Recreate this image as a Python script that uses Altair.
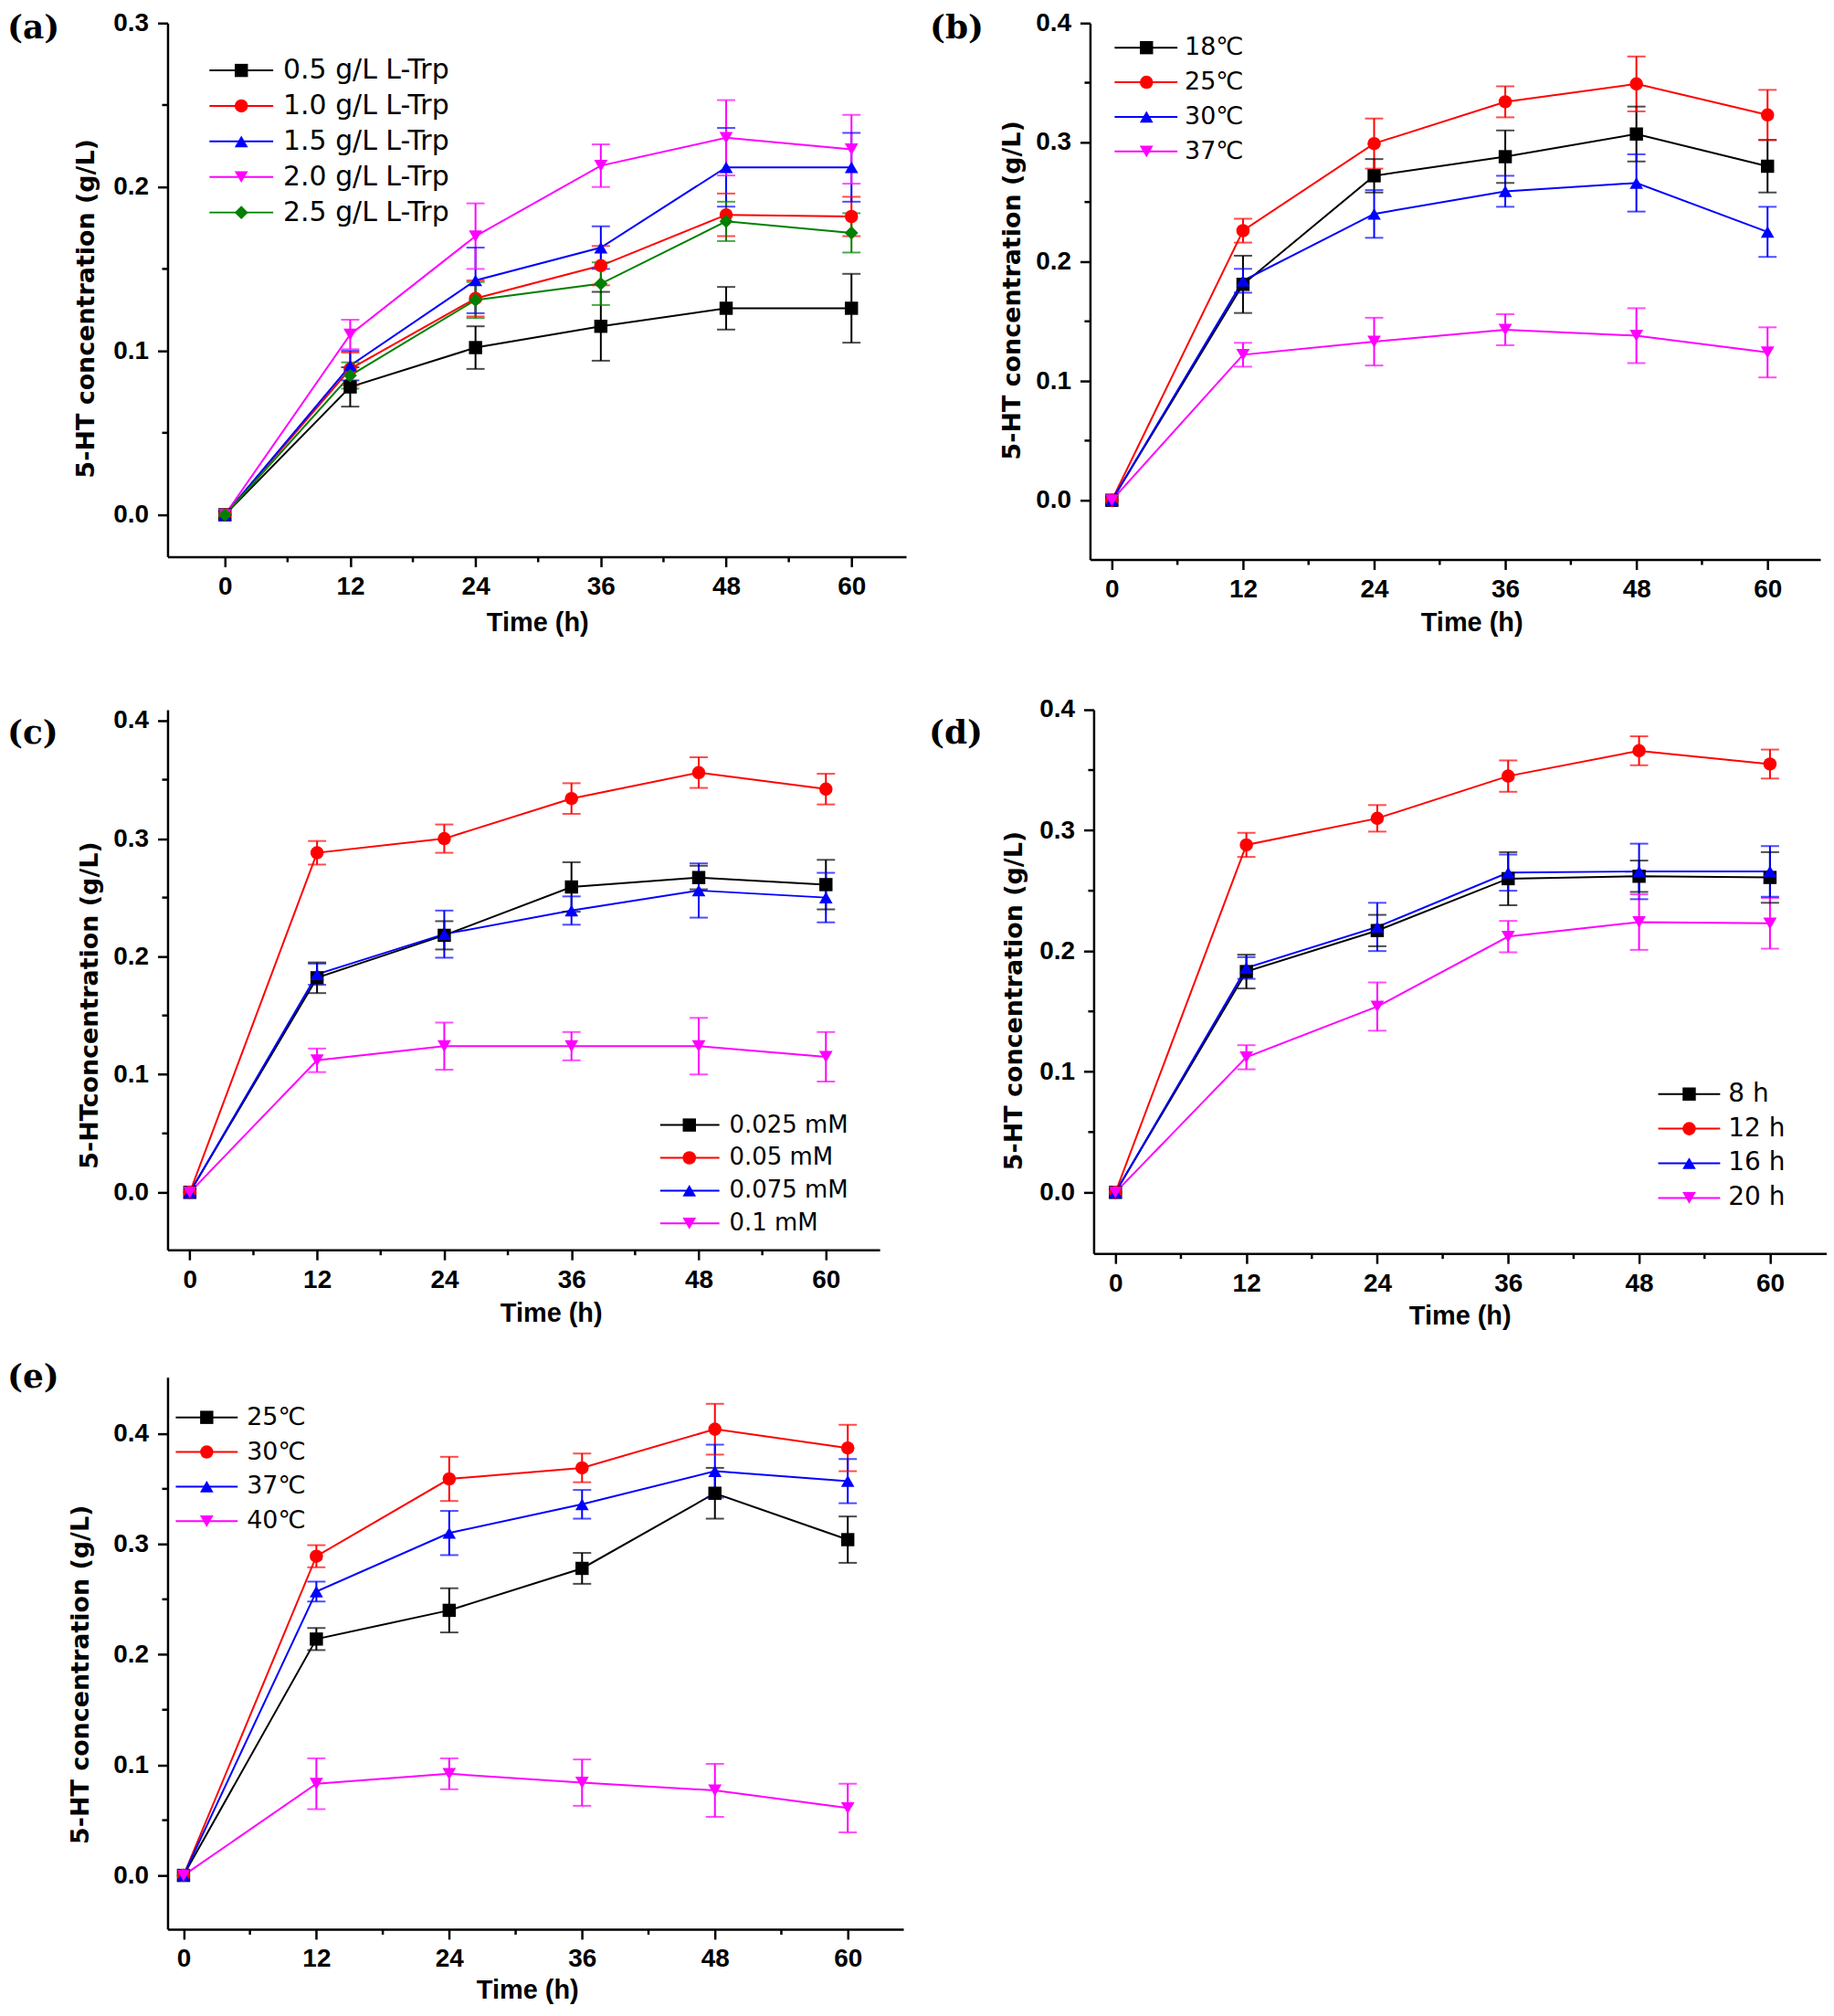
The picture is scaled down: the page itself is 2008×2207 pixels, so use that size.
import altair as alt
import pandas as pd

TIME = [0, 12, 24, 36, 48, 60]
X_MINOR = [6, 18, 30, 42, 54]
COLORS = ["#000000", "#FF0000", "#0000FF", "#FF00FF", "#008000"]
SHAPES = ["square", "circle", "triangle-up", "triangle-down", "diamond"]
SIZES = [210, 220, 290, 290, 240]

# ---- panel (a)
A_SERIES = ["0.5 g/L L-Trp", "1.0 g/L L-Trp", "1.5 g/L L-Trp", "2.0 g/L L-Trp", "2.5 g/L L-Trp"]
A_VALUES = [
    [0, 0.078, 0.102, 0.115, 0.126, 0.126],
    [0, 0.089, 0.132, 0.152, 0.183, 0.182],
    [0, 0.091, 0.143, 0.163, 0.212, 0.212],
    [0, 0.110, 0.170, 0.213, 0.230, 0.223],
    [0, 0.085, 0.131, 0.141, 0.179, 0.172],
]
A_ERRORS = [
    [0, 0.012, 0.013, 0.021, 0.013, 0.021],
    [0, 0.010, 0.011, 0.012, 0.013, 0.012],
    [0, 0.009, 0.020, 0.013, 0.024, 0.021],
    [0, 0.009, 0.020, 0.013, 0.023, 0.021],
    [0, 0.008, 0.011, 0.013, 0.012, 0.012],
]

# ---- panel (b)
B_SERIES = ["18℃", "25℃", "30℃", "37℃"]
B_VALUES = [
    [0, 0.181, 0.272, 0.288, 0.307, 0.280],
    [0, 0.226, 0.299, 0.334, 0.349, 0.323],
    [0, 0.184, 0.240, 0.259, 0.266, 0.225],
    [0, 0.122, 0.133, 0.143, 0.138, 0.124],
]
B_ERRORS = [
    [0, 0.024, 0.014, 0.022, 0.023, 0.022],
    [0, 0.010, 0.021, 0.013, 0.023, 0.021],
    [0, 0.010, 0.020, 0.013, 0.024, 0.021],
    [0, 0.010, 0.020, 0.013, 0.023, 0.021],
]

# ---- panel (c)
C_SERIES = ["0.025 mM", "0.05 mM", "0.075 mM", "0.1 mM"]
C_VALUES = [
    [0, 0.182, 0.218, 0.259, 0.267, 0.261],
    [0, 0.288, 0.300, 0.334, 0.356, 0.342],
    [0, 0.185, 0.219, 0.239, 0.256, 0.250],
    [0, 0.112, 0.124, 0.124, 0.124, 0.115],
]
C_ERRORS = [
    [0, 0.013, 0.012, 0.021, 0.010, 0.021],
    [0, 0.010, 0.012, 0.013, 0.013, 0.013],
    [0, 0.009, 0.020, 0.012, 0.023, 0.021],
    [0, 0.010, 0.020, 0.012, 0.024, 0.021],
]

# ---- panel (d)
D_SERIES = ["8 h", "12 h", "16 h", "20 h"]
D_VALUES = [
    [0, 0.183, 0.217, 0.260, 0.262, 0.261],
    [0, 0.288, 0.310, 0.345, 0.366, 0.355],
    [0, 0.186, 0.220, 0.265, 0.266, 0.266],
    [0, 0.112, 0.154, 0.212, 0.224, 0.223],
]
D_ERRORS = [
    [0, 0.014, 0.013, 0.022, 0.013, 0.021],
    [0, 0.010, 0.011, 0.013, 0.012, 0.012],
    [0, 0.009, 0.020, 0.015, 0.023, 0.021],
    [0, 0.010, 0.020, 0.013, 0.023, 0.021],
]

# ---- panel (e)
E_SERIES = ["25℃", "30℃", "37℃", "40℃"]
E_VALUES = [
    [0, 0.214, 0.240, 0.278, 0.346, 0.304],
    [0, 0.289, 0.359, 0.369, 0.404, 0.387],
    [0, 0.257, 0.310, 0.336, 0.366, 0.357],
    [0, 0.083, 0.092, 0.084, 0.077, 0.061],
]
E_ERRORS = [
    [0, 0.010, 0.020, 0.014, 0.023, 0.021],
    [0, 0.010, 0.020, 0.013, 0.023, 0.021],
    [0, 0.009, 0.020, 0.013, 0.024, 0.020],
    [0, 0.023, 0.014, 0.021, 0.024, 0.022],
]

Y_TICKS_A = [0.0, 0.1, 0.2, 0.3]
Y_MINOR_A = [0.05, 0.15, 0.25]
Y_TICKS = [0.0, 0.1, 0.2, 0.3, 0.4]
Y_MINOR = [0.05, 0.15, 0.25, 0.35]


def panel(tag, series, values, errors, xdom, ydom, yticks, yminor, W, H, lay):
    rows = []
    for k, (s, vals, errs) in enumerate(zip(series, values, errors)):
        for t, v, e in zip(TIME, vals, errs):
            rows.append({"series": s, "time": t, "value": v,
                         "lo": v - e, "hi": v + e, "k": k})
    df = pd.DataFrame(rows)
    err_df = df[df["time"] > 0]
    n = len(series)
    color = alt.Color("series:N", scale=alt.Scale(domain=series, range=COLORS[:n]), legend=None)
    shape = alt.Shape("series:N", scale=alt.Scale(domain=series, range=SHAPES[:n]), legend=None)
    size = alt.Size("series:N", scale=alt.Scale(domain=series, range=SIZES[:n]), legend=None)
    xs = alt.Scale(domain=xdom, nice=False, zero=False)
    ys = alt.Scale(domain=ydom, nice=False, zero=False)

    yaxis = alt.Axis(values=yticks, format=".1f", title=lay["ytitle"],
                     titleX=lay["ytx"], titleY=lay["yty"], titleAngle=270,
                     titleAlign="center", titleBaseline="middle",
                     titleFont="DejaVu Sans", titleFontSize=27, titleFontWeight="bold",
                     titleColor="black", labelFont="Liberation Sans", labelFontSize=28,
                     labelFontWeight="bold", labelColor="black", labelPadding=10,
                     tickSize=11, tickWidth=2.5, tickColor="black",
                     domainWidth=2.5, domainColor="black", grid=False, labelFlush=False)
    xaxis = alt.Axis(values=TIME, format="d", title="Time (h)",
                     titleX=lay["xtx"], titleY=lay["xty"],
                     titleAlign="center", titleBaseline="middle",
                     titleFont="Liberation Sans", titleFontSize=29, titleFontWeight="bold",
                     titleColor="black", labelFont="Liberation Sans", labelFontSize=28,
                     labelFontWeight="bold", labelColor="black", labelPadding=8,
                     tickSize=11, tickWidth=2.5, tickColor="black",
                     domainWidth=2.5, domainColor="black", grid=False, labelFlush=False)

    X = lambda f: alt.X(f, scale=xs, axis=xaxis)
    Y = lambda f: alt.Y(f, scale=ys, axis=yaxis)

    lines = alt.Chart(df).mark_line(strokeWidth=2).encode(
        x=X("time:Q"), y=Y("value:Q"), color=color, order="time:Q")
    errbar = alt.Chart(err_df).mark_rule(strokeWidth=2).encode(
        x=X("time:Q"), y=Y("lo:Q"), y2="hi:Q", color=color)
    cap_hi = alt.Chart(err_df).mark_tick(orient="horizontal", size=20, thickness=2).encode(
        x=X("time:Q"), y=Y("hi:Q"), color=color)
    cap_lo = alt.Chart(err_df).mark_tick(orient="horizontal", size=20, thickness=2).encode(
        x=X("time:Q"), y=Y("lo:Q"), color=color)
    points = alt.Chart(df).mark_point(filled=True, opacity=1).encode(
        x=X("time:Q"), y=Y("value:Q"),
        color=color, shape=shape, size=size, order="k:Q")
    ymin = alt.Chart(pd.DataFrame({"v": yminor})).mark_rule(strokeWidth=2.5, color="black").encode(
        y=Y("v:Q"), x=alt.value(-6), x2=alt.value(0))
    xmin = alt.Chart(pd.DataFrame({"v": X_MINOR})).mark_rule(strokeWidth=2.5, color="black").encode(
        x=X("v:Q"), y=alt.value(H), y2=alt.value(H + 6))
    label = alt.Chart(pd.DataFrame({"t": [tag]})).mark_text(
        font="DejaVu Serif", fontWeight="bold", fontSize=36, align="left",
        baseline="middle", color="black").encode(
        x=alt.value(lay["lx"]), y=alt.value(lay["ly"]), text="t:N")
    parts = [lines, errbar, cap_hi, cap_lo, points, ymin, xmin, label]
    if lay.get("ext"):
        spacer = alt.Chart(pd.DataFrame({"t": [0]})).mark_rule(opacity=0).encode(
            x=alt.value(0), y=alt.value(-lay["ext"]), y2=alt.value(-lay["ext"] + 1))
        parts.append(spacer)
    inner = alt.layer(*parts)

    ldf = pd.DataFrame({"series": series, "idx": list(range(n))})
    ly = alt.Y("idx:Q", scale=alt.Scale(domain=[0, n - 1], range=[lay["ly0"], lay["ly1"]],
                                        nice=False, zero=False), axis=None)
    leg_line = alt.Chart(ldf).mark_rule(strokeWidth=2).encode(
        x=alt.value(lay["lx0"]), x2=alt.value(lay["lx1"]), y=ly, color=color)
    leg_pt = alt.Chart(ldf).mark_point(filled=True, opacity=1).encode(
        x=alt.value(lay["mx"]), y=ly, color=color, shape=shape, size=size)
    leg_txt = alt.Chart(ldf).mark_text(align="left", baseline="middle", font="DejaVu Sans",
                                       fontSize=lay.get("lfs", 26), color="black").encode(
        x=alt.value(lay["tx"]), y=ly, text="series:N")
    legend = alt.layer(leg_line, leg_pt, leg_txt)

    return alt.layer(inner, legend).resolve_scale(y="independent").properties(width=W, height=H)


YT = "5-HT concentration (g/L)"
pa = panel("(a)", A_SERIES, A_VALUES, A_ERRORS, [-5.49, 65.23], [-0.0256, 0.3], Y_TICKS_A, Y_MINOR_A,
           811, 586,
           dict(ytitle=YT, ytx=-89, yty=313, xtx=406, xty=72, lx=-176, ly=6,
                ly0=52, ly1=208, lx0=46, lx1=116, mx=81, tx=127, lfs=30))
pb = panel("(b)", B_SERIES, B_VALUES, B_ERRORS, [-2.0, 64.83], [-0.0496, 0.4], Y_TICKS, Y_MINOR,
           802, 589,
           dict(ytitle=YT, ytx=-85, yty=293, xtx=419, xty=69, lx=-176, ly=6,
                ly0=27, ly1=141, lx0=27, lx1=96, mx=62, tx=104, lfs=27))
pc = panel("(c)", C_SERIES, C_VALUES, C_ERRORS, [-2.10, 65.07], [-0.0487, 0.4093], Y_TICKS, Y_MINOR,
           782, 593,
           dict(ytitle="5-HTconcentration (g/L)", ytx=-85, yty=324, xtx=421, xty=70, lx=-176, ly=26,
                ly0=456, ly1=564, lx0=541, lx1=606, mx=573, tx=617, lfs=26, ext=25))
pd_ = panel("(d)", D_SERIES, D_VALUES, D_ERRORS, [-2.0, 65.2], [-0.0506, 0.4], Y_TICKS, Y_MINOR,
            805, 597,
            dict(ytitle=YT, ytx=-87, yty=319, xtx=402, xty=69, lx=-181, ly=26,
                 ly0=422, ly1=536, lx0=620, lx1=688, mx=654, tx=697, lfs=28))
pe = panel("(e)", E_SERIES, E_VALUES, E_ERRORS, [-1.44, 65.02], [-0.0487, 0.451], Y_TICKS, Y_MINOR,
           808, 606,
           dict(ytitle=YT, ytx=-95, yty=326, xtx=395, xty=67, lx=-176, ly=0,
                ly0=44, ly1=158, lx0=9, lx1=77, mx=43, tx=87, lfs=27))

IND = dict(color="independent", shape="independent", size="independent")
row1 = alt.hconcat(pa, pb, spacing=26).resolve_scale(**IND)
row2 = alt.hconcat(pc, pd_, spacing=54).resolve_scale(**IND)
top = alt.vconcat(row1, row2, spacing=56).resolve_scale(**IND)
chart = alt.vconcat(top, pe, spacing=34).resolve_scale(**IND).properties(
    padding={"left": 0, "top": 0, "right": 0, "bottom": 5},
    background="white",
).configure_view(stroke=None)

chart.save("out.html", embed_options={"renderer": "svg", "actions": False})
